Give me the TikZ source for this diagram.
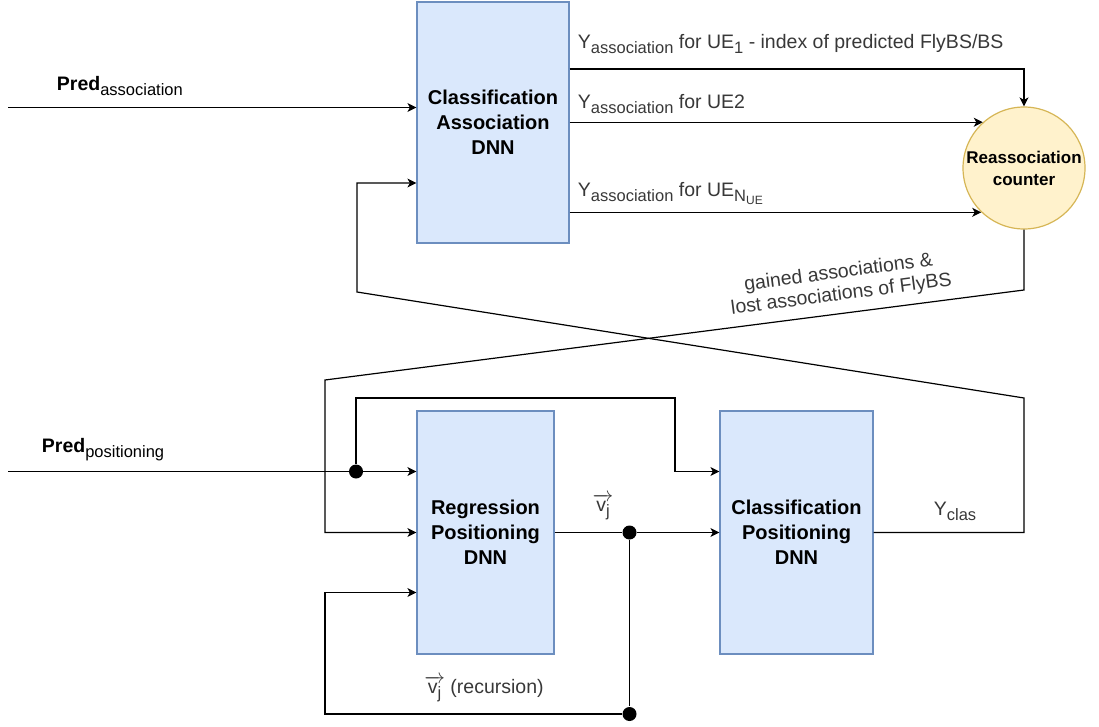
\documentclass[tikz,border=0pt]{standalone}
\usepackage{fontspec}
\setmainfont{Liberation Sans}
\usetikzlibrary{arrows.meta}
\definecolor{boxfill}{HTML}{DAE8FC}
\definecolor{boxline}{HTML}{6C8EBF}
\definecolor{cntfill}{HTML}{FFF2CC}
\definecolor{cntline}{HTML}{D6B656}
\newcommand{\sub}[1]{\raisebox{-5pt}{\fontsize{16.5}{17}\mdseries\selectfont #1}}
\newcommand{\subsub}[1]{\raisebox{-3pt}{\fontsize{12}{12}\selectfont #1}}
\newcommand{\vecvj}{$\overrightarrow{\mbox{v\sub{j}}}$}
\tikzset{
  dnnbox/.style={draw=boxline, fill=boxfill, line width=1.2pt, align=center,
    font=\fontsize{20}{25}\selectfont\bfseries},
  arr/.style={-{Stealth[length=9pt,width=9pt,inset=2.5pt]}},
  lbl/.style={text=black!78, font=\fontsize{19.5}{22}\selectfont},
  dot/.style={circle, fill=black, inner sep=0pt, minimum size=14pt}
}
\begin{document}
\begin{tikzpicture}[x=1pt, y=-1pt, line width=1.2pt]
    \useasboundingbox (0,0) rectangle (1099,727);
    \node[dnnbox, minimum width=152, minimum height=241] (assocdnn) at (493,122.5) {Classification\\Association\\DNN};
    \node[dnnbox, minimum width=137, minimum height=243] (regdnn) at (485.5,532.5) {Regression\\Positioning\\DNN};
    \node[dnnbox, minimum width=153, minimum height=243] (clasdnn) at (796.5,532.5) {Classification\\Positioning\\DNN};
    \node[circle, draw=cntline, fill=cntfill, line width=1.2pt, minimum size=122, inner sep=0pt, align=center,
      font=\fontsize{17}{22}\selectfont\bfseries] (counter) at (1024,168) {Reassociation\\counter};

    \coordinate (predassoc) at (8,107.5);
    \coordinate (predpos) at (8,471.5);
    \draw[arr] (predassoc) -- (predassoc -| assocdnn.west);
    \draw[arr] ([yshift=53.5pt]assocdnn.east) -| (counter.north);
    \draw[arr] (assocdnn.east |- counter.132.5) -- (counter.132.5);
    \draw[arr] (assocdnn.east |- counter.226) -- (counter.226);
    \draw[arr] (clasdnn.east) -| (1024,398) -- (357,292) |- ([yshift=-60.5pt]assocdnn.west);
    \draw[arr] (counter.south) -- (1024,290) -- (325,380) |- (regdnn.west);

    \node[dot] (split) at (356,471.5) {};
    \draw[arr] (predpos) -- (predpos -| regdnn.west);
    \draw[arr] (split) |- (675,398) |- (predpos -| clasdnn.west);
    \node[dot] (vjout) at (629.5,532.5) {};
    \node[dot] (vjback) at (629.5,714) {};
    \draw (regdnn.east) -- (vjout);
    \draw[arr] (vjout) -- (clasdnn.west);
    \draw (vjout) -- (vjback);
    \draw[arr] (vjback) -| (325,592.5) -- ([yshift=-60pt]regdnn.west);

    \node[font=\fontsize{19.5}{22}\selectfont, anchor=west] (lpa) at (53,86) {\textbf{Pred}\sub{association}};
    \node[font=\fontsize{19.5}{22}\selectfont, anchor=west] (lpp) at (38,450) {\textbf{Pred}\sub{positioning}};
    \node[lbl, anchor=west] (lout1) at (574,44) {Y\sub{association} for UE\sub{1} - index of predicted FlyBS/BS};
    \node[lbl, anchor=west] (lout2) at (574,104) {Y\sub{association} for UE2};
    \node[lbl, anchor=west] (lout3) at (574,194) {Y\sub{association} for UE\sub{N\subsub{UE}}};
    \node[lbl, align=center, rotate=7.5] (lgain) at (840,284) {gained associations \&\\lost associations of FlyBS};
    \node[lbl] (lvj) at (603,507) {\vecvj};
    \node[lbl] (lclas) at (955,511) {Y\sub{clas}};
    \node[lbl] (lrec) at (484,689) {\vecvj{} (recursion)};
\end{tikzpicture}
\end{document}
